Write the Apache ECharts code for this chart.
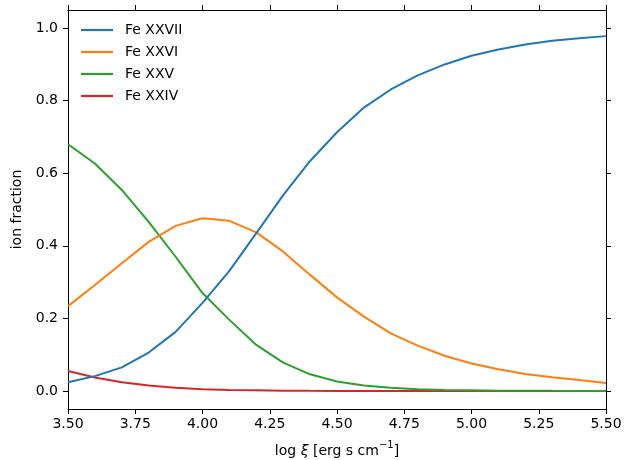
<!DOCTYPE html>
<html><head><meta charset="utf-8">
<script src="https://cdn.jsdelivr.net/npm/echarts@6/dist/echarts.min.js"></script>
<style>html,body{margin:0;padding:0;background:#fff}#c{width:644px;height:460px}</style>
</head><body><div id="c"></div>
<script>
const logXi = [3.5,3.6,3.7,3.8,3.9,4.0,4.1,4.2,4.3,4.4,4.5,4.6,4.7,4.8,4.9,5.0,5.1,5.2,5.3,5.4,5.5];
const feXXVII = [0.024,0.041,0.065,0.106,0.163,0.243,0.331,0.435,0.540,0.634,0.713,0.781,0.831,0.870,0.900,0.924,0.941,0.955,0.965,0.972,0.978];
const feXXVI  = [0.234,0.292,0.352,0.411,0.455,0.476,0.469,0.437,0.384,0.320,0.258,0.205,0.159,0.125,0.097,0.076,0.060,0.047,0.038,0.030,0.022];
const feXXV   = [0.680,0.627,0.554,0.466,0.370,0.270,0.196,0.127,0.078,0.046,0.026,0.015,0.009,0.005,0.003,0.002,0.001,0.001,0.0005,0.0003,0.0002];
const feXXIV  = [0.055,0.037,0.024,0.015,0.009,0.005,0.003,0.002,0.001,0.0005,0.0003,0.0002,0.0001,0,0,0,0,0,0,0,0];
const xTicks = [3.5,3.75,4.0,4.25,4.5,4.75,5.0,5.25,5.5];
const yTicks = [0.0,0.2,0.4,0.6,0.8,1.0];
const names = ['Fe XXVII','Fe XXVI','Fe XXV','Fe XXIV'];
const colors = ['#1f77b4','#ff7f0e','#2ca02c','#d62728'];
const seriesVals = [feXXVII, feXXVI, feXXV, feXXIV];

const font = 'DejaVu Sans';
const axisLineStyle = {color:'#000', width:1};
const chart = echarts.init(document.getElementById('c'), null, {renderer:'canvas'});
const xMin = 3.5, xMax = 5.5, yMin = -0.0496, yMax = 1.05;
function xAxisDef(pos, labels){
  return {type:'value', position:pos, min:xMin, max:xMax,
    axisLine:{show:true, onZero:false, lineStyle:axisLineStyle},
    axisTick:{show:true, inside:false, length:5, lineStyle:axisLineStyle, customValues:xTicks},
    axisLabel:{show:labels, customValues:xTicks, formatter:v=>v.toFixed(2), color:'#000', fontFamily:font, fontSize:14, margin:8},
    splitLine:{show:false},
    name: labels ? '{n|log }{i|ξ}{n| [erg s cm}{s|−1}{n|]}' : '', nameLocation:'middle', nameGap:31,
    nameTextStyle:{color:'#000', fontFamily:font, fontSize:14,
      rich:{n:{fontFamily:font, fontSize:14, color:'#000', lineHeight:18, verticalAlign:'bottom'},
            i:{fontFamily:font, fontSize:14, fontStyle:'italic', color:'#000', lineHeight:18, verticalAlign:'bottom'},
            s:{fontFamily:font, fontSize:10, color:'#000', lineHeight:18, verticalAlign:'top'}}}};
}
function yAxisDef(pos, labels){
  return {type:'value', position:pos, min:yMin, max:yMax,
    axisLine:{show:true, onZero:false, lineStyle:axisLineStyle},
    axisTick:{show:true, inside:false, length:5, lineStyle:axisLineStyle, customValues:yTicks},
    axisLabel:{show:labels, customValues:yTicks, formatter:v=>v.toFixed(1), color:'#000', fontFamily:font, fontSize:14, margin:10},
    splitLine:{show:false},
    name: labels ? 'ion fraction' : '', nameLocation:'middle', nameGap:41, nameRotate:90,
    nameTextStyle:{color:'#000', fontFamily:font, fontSize:14}};
}
chart.setOption({
  animation:false,
  backgroundColor:'#fff',
  grid:{left:68, right:38, top:10, bottom:51, containLabel:false, outerBoundsMode:'none'},
  legend:{show:true, orient:'vertical', left:76, top:18, icon:'rect', itemWidth:32, itemHeight:2.2, itemGap:8,
    textStyle:{fontFamily:font, fontSize:14, color:'#000', padding:[0,0,0,7], lineHeight:14},
    data:names},
  xAxis:[xAxisDef('bottom', true), xAxisDef('top', false)],
  yAxis:[yAxisDef('left', true), yAxisDef('right', false)],
  series: names.map((n,i)=>({name:n, type:'line', xAxisIndex:0, yAxisIndex:0,
    data: logXi.map((x,j)=>[x, seriesVals[i][j]]), showSymbol:false, symbol:'none',
    lineStyle:{color:colors[i], width:2}, itemStyle:{color:colors[i]}, z:10-i}))
});
</script></body></html>
